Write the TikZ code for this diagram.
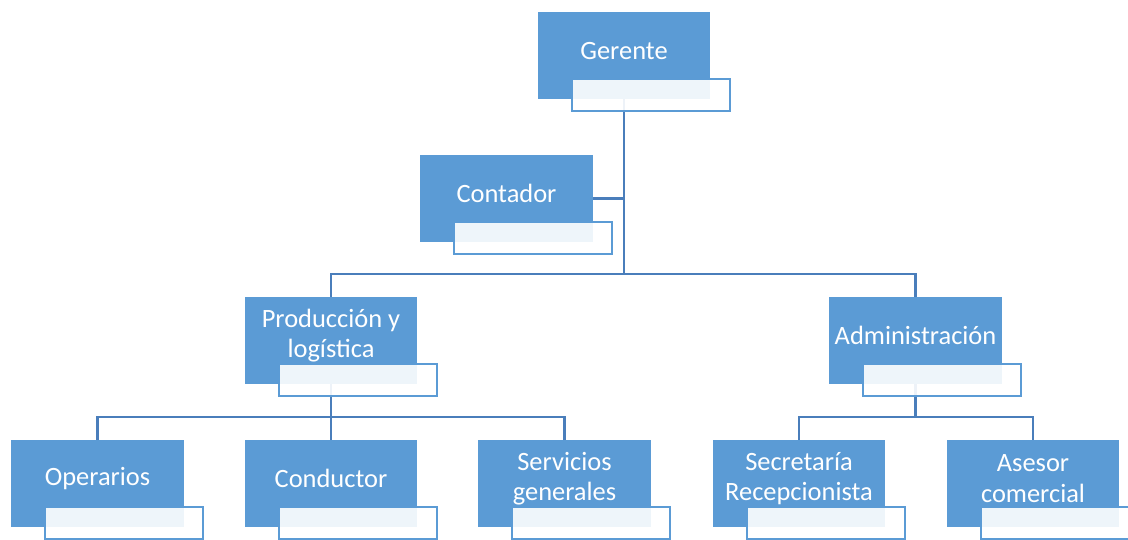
\documentclass[tikz,border=0pt]{standalone}
\usepackage{fontspec}
\setmainfont{Carlito}
\usetikzlibrary{backgrounds}
\definecolor{azul}{HTML}{5B9BD5}
\definecolor{linea}{HTML}{4A7EBB}
\tikzset{cargo/.style={fill=azul,minimum width=4.3cm,minimum height=2.175cm,inner sep=0pt},
texto/.style={text=white,align=center,inner sep=0pt,font=\fontsize{18.8}{21.8}\selectfont},
pie/.style={draw=azul,line width=1.5pt,fill=white,fill opacity=0.9,minimum width=3.95cm,minimum height=0.8cm,inner sep=0pt,anchor=south west},
rama/.style={draw=linea,line width=1.5pt}}
% nombre, posicion, texto
\newcommand\puesto[3]{\node[cargo](#1) at (#2){};
\node[texto](#1-t) at ([yshift=0.12cm]#1.center){#3};
\node[pie](#1-p) at ([shift={(0.825cm,-0.325cm)}]#1.south west){};}
\begin{document}
\begin{tikzpicture}[x=0.025cm,y=-0.025cm]
\useasboundingbox (0,0) rectangle (1128,539);
\puesto{g}{624,55.5}{Gerente}
\puesto{c}{506.5,198.5}{Contador}
\puesto{p}{331,340.5}{Producción y\\logística}
\puesto{a}{915.5,340.5}{Administración}
\puesto{o}{97.5,483.5}{Operarios}
\puesto{cd}{331,483.5}{Conductor}
\puesto{s}{564.5,483.5}{Servicios\\generales}
\puesto{sr}{799,483.5}{Secretaría\\Recepcionista}
\puesto{as}{1033,483.5}{Asesor\\comercial}
\begin{scope}[on background layer]
\coordinate (t) at (624,274);
\coordinate (pb) at (331,417);
\coordinate (ab) at (915.5,417);
\draw[rama](g)--(t);
\draw[rama](c.east)--(c.east-|t);
\draw[rama](p.north)|-(t)-|(a.north);
\draw[rama](p)--(pb);
\draw[rama](o.north)|-(pb)-|(s.north);
\draw[rama](pb)--(cd.north);
\draw[rama](a)--(ab);
\draw[rama](sr.north)|-(ab)-|(as.north);
\end{scope}
\end{tikzpicture}
\end{document}
